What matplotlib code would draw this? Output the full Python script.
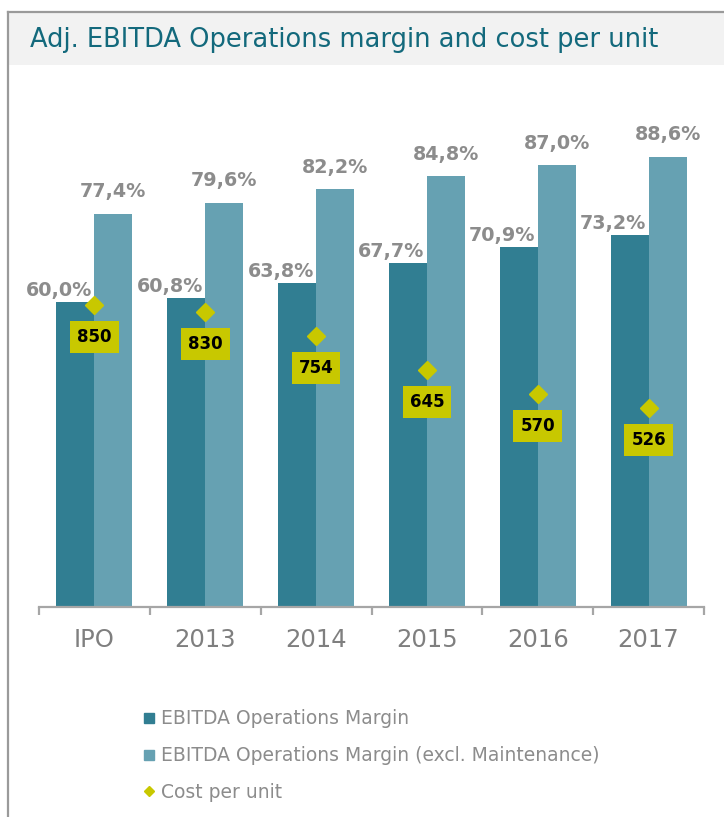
import matplotlib.pyplot as plt
from matplotlib.lines import Line2D
from matplotlib.patches import Rectangle
import numpy as np

# donnees
categories = ["IPO", "2013", "2014", "2015", "2016", "2017"]
marge = [60.0, 60.8, 63.8, 67.7, 70.9, 73.2]
marge_hors_maint = [77.4, 79.6, 82.2, 84.8, 87.0, 88.6]
cout_unitaire = [850, 830, 754, 645, 570, 526]

fonce = "#317e92"
clair = "#66a1b2"
jaune = "#c8c800"
gris = "#8c8c8c"

fig = plt.figure(figsize=(7.24, 8.17), dpi=100)

# cadre et bandeau du titre
fig.patches.append(Rectangle((9 / 724, 1 - 65 / 817), 1, 52 / 817, transform=fig.transFigure,
                             facecolor="#f2f2f2", edgecolor="none", zorder=0))
fig.add_artist(Line2D([8 / 724, 8 / 724], [0, 1 - 12 / 817], color="#9a9a9a", lw=1.6))
fig.add_artist(Line2D([8 / 724, 1], [1 - 12 / 817, 1 - 12 / 817], color="#9a9a9a", lw=1.6))
fig.text(30 / 724, 1 - 40 / 817, "Adj. EBITDA Operations margin and cost per unit",
         fontsize=18.5, color="#13697c", va="center", ha="left")

ax = fig.add_axes([39 / 724, 1 - 607 / 817, 665 / 724, 508 / 817])
x = np.arange(len(categories))
w = 0.343
ax.bar(x - w / 2, marge, w, color=fonce, zorder=2)
ax.bar(x + w / 2, marge_hors_maint, w, color=clair, zorder=2)
ax.set_xlim(-0.5, len(categories) - 0.5)
ax.set_ylim(0, 100)

for i in range(len(categories)):
    ax.annotate("%.1f%%" % marge[i], (x[i] - 0.02, marge[i]), xytext=(0, 1.5), textcoords="offset points",
                ha="right", va="bottom", fontsize=13.8, fontweight="bold", color=gris, zorder=5)
    ax.annotate("%.1f%%" % marge_hors_maint[i], (x[i] + w / 2, marge_hors_maint[i]), xytext=(0, 9),
                textcoords="offset points", ha="center", va="bottom", fontsize=13.8, fontweight="bold",
                color=gris, zorder=5)

for t in ax.texts:
    t.set_text(t.get_text().replace(".", ","))

# axe secondaire pour le cout par unite
ax2 = ax.twinx()
ax2.set_ylim(-100, 1500)
ax2.plot(x, cout_unitaire, linestyle="none", marker="D", markersize=9.5, color=jaune, zorder=4)
for i in range(len(categories)):
    ax2.annotate(str(cout_unitaire[i]), (x[i], cout_unitaire[i]), xytext=(0, -23), textcoords="offset points",
                 ha="center", va="center", fontsize=12, fontweight="bold", color="black",
                 bbox=dict(boxstyle="square,pad=0.42", facecolor=jaune, edgecolor="none"))
ax2.axis("off")

for s in ["top", "right", "left"]:
    ax.spines[s].set_visible(False)
ax.spines["bottom"].set_color("#a6a6a6")
ax.spines["bottom"].set_linewidth(1.6)
ax.set_yticks([])
ax.set_xticks(np.arange(-0.5, len(categories), 1.0))
ax.set_xticklabels([])
ax.tick_params(axis="x", which="major", length=6, width=1.6, color="#a6a6a6")
ax.set_xticks(x, minor=True)
ax.set_xticklabels(categories, minor=True)
ax.tick_params(axis="x", which="minor", length=0, pad=15, labelsize=17.5, labelcolor="#7f7f7f")

poignees = [
    Line2D([], [], linestyle="none", marker="s", markersize=7, color=fonce),
    Line2D([], [], linestyle="none", marker="s", markersize=7, color=clair),
    Line2D([], [], linestyle="none", marker="D", markersize=5, color=jaune),
]
noms = ["EBITDA Operations Margin", "EBITDA Operations Margin (excl. Maintenance)", "Cost per unit"]
leg = fig.legend(poignees, noms, loc="upper left", bbox_to_anchor=(133 / 724, 1 - 700 / 817), frameon=False,
                 fontsize=13.5, labelspacing=0.95, handlelength=0.7, handletextpad=0.3, borderpad=0)
for t in leg.get_texts():
    t.set_color(gris)

fig.savefig("out.png", dpi=100)
